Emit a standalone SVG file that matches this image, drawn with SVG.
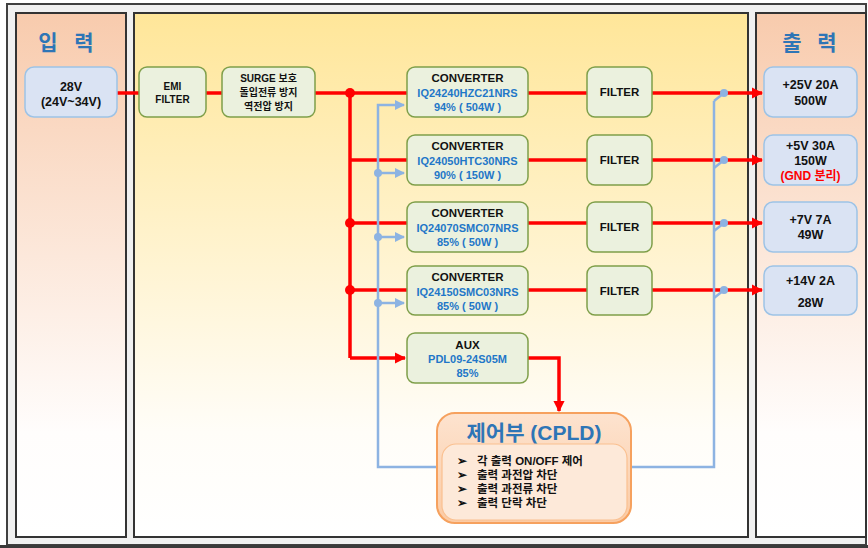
<svg xmlns="http://www.w3.org/2000/svg" width="868" height="548" viewBox="0 0 868 548">
<defs>
<linearGradient id="gSalmon" x1="0" y1="0" x2="0" y2="1">
<stop offset="0" stop-color="#f8cbad"/><stop offset="0.8" stop-color="#fffdfc"/><stop offset="1" stop-color="#ffffff"/>
</linearGradient>
<linearGradient id="gYellow" x1="0" y1="0" x2="0" y2="1">
<stop offset="0" stop-color="#ffe699"/><stop offset="0.8" stop-color="#fffdf8"/><stop offset="1" stop-color="#ffffff"/>
</linearGradient>
<linearGradient id="gOrange" x1="0" y1="0" x2="0" y2="1">
<stop offset="0" stop-color="#fde3cf"/><stop offset="1" stop-color="#fbcba5"/>
</linearGradient>
<marker id="arR" viewBox="0 0 10 10" refX="9" refY="5" markerWidth="3.2" markerHeight="3.2" orient="auto" markerUnits="strokeWidth">
<path d="M0,0 L10,5 L0,10 z" fill="#ff0000"/>
</marker>
<marker id="arB" viewBox="0 0 10 10" refX="9" refY="5" markerWidth="4" markerHeight="4" orient="auto" markerUnits="strokeWidth">
<path d="M0,0 L10,5 L0,10 z" fill="#8db3e2"/>
</marker>
<style>
text{font-family:"Liberation Sans","Noto Sans CJK KR",sans-serif;font-weight:bold;text-anchor:middle;}
.panel{stroke:#333;stroke-width:2;}
.green{fill:#ebf1de;stroke:#7f9f4a;stroke-width:1.5;}
.blue{fill:#dae3f3;stroke:#9dc3e6;stroke-width:1.5;}
.t{font-size:11.5px;fill:#111;}
.ts{font-size:10px;fill:#111;}
.pn{font-size:11px;fill:#1f77c8;}
.title{font-size:21px;fill:#2e75b6;font-family:"Noto Sans CJK KR",sans-serif;}
.red{stroke:#ff0000;stroke-width:3.5;fill:none;}
.bl{stroke:#8db3e2;stroke-width:2.5;fill:none;}
.bul{font-size:11.5px;fill:#111;text-anchor:start;}
.o{font-size:12.5px;fill:#111;}
</style>
</defs>
<rect x="0" y="0" width="868" height="548" fill="#ffffff"/>
<rect x="7" y="4" width="859" height="541" fill="#f0f0f0" stroke="#404040" stroke-width="2"/>
<rect x="0" y="545" width="868" height="3" fill="#3a3a3a"/>

<g id="panel-input">
<rect class="panel" x="16" y="13" width="110" height="524" fill="url(#gSalmon)"/>
<text class="title" x="48" y="50">입</text>
<text class="title" x="84" y="50">력</text>
</g>
<g id="panel-main">
<rect class="panel" x="134" y="13" width="614" height="524" fill="url(#gYellow)"/>
</g>
<g id="panel-output">
<rect class="panel" x="756" y="13" width="110" height="524" fill="url(#gSalmon)"/>
<text class="title" x="792" y="50">출</text>
<text class="title" x="827" y="50">력</text>
</g>

<g id="connectors">
<line class="red" x1="117" y1="93" x2="139" y2="93"/>
<line class="red" x1="206" y1="93" x2="222" y2="93"/>
<line class="red" x1="315" y1="93" x2="407" y2="93"/>
<line class="red" x1="350" y1="93" x2="350" y2="358"/>
<line class="red" x1="350" y1="358" x2="405" y2="358" marker-end="url(#arR)"/>
<line class="red" x1="350" y1="160" x2="407" y2="160"/>
<line class="red" x1="350" y1="223" x2="407" y2="223"/>
<line class="red" x1="350" y1="290" x2="407" y2="290"/>
<circle cx="350" cy="93" r="5" fill="#ff0000"/>
<circle cx="350" cy="223" r="5" fill="#ff0000"/>
<circle cx="350" cy="290" r="5" fill="#ff0000"/>
<line class="red" x1="528" y1="93" x2="587" y2="93"/>
<line class="red" x1="528" y1="160" x2="587" y2="160"/>
<line class="red" x1="528" y1="223" x2="587" y2="223"/>
<line class="red" x1="528" y1="290" x2="587" y2="290"/>
<line class="red" x1="652" y1="93" x2="762" y2="93" marker-end="url(#arR)"/>
<line class="red" x1="652" y1="160" x2="762" y2="160" marker-end="url(#arR)"/>
<line class="red" x1="652" y1="223" x2="762" y2="223" marker-end="url(#arR)"/>
<line class="red" x1="652" y1="290" x2="762" y2="290" marker-end="url(#arR)"/>
<polyline class="red" points="528,358 559,358 559,411" marker-end="url(#arR)"/>

<polyline class="bl" points="714,101 714,467 378,467 378,105 404,105" marker-end="url(#arB)"/>
<line class="bl" x1="378" y1="173" x2="404" y2="173" marker-end="url(#arB)"/>
<line class="bl" x1="378" y1="237" x2="404" y2="237" marker-end="url(#arB)"/>
<line class="bl" x1="378" y1="303" x2="404" y2="303" marker-end="url(#arB)"/>
<circle cx="378" cy="173" r="4" fill="#8db3e2"/>
<circle cx="378" cy="237" r="4" fill="#8db3e2"/>
<circle cx="378" cy="303" r="4" fill="#8db3e2"/>
<line class="bl" x1="714" y1="101" x2="724" y2="93"/>
<line class="bl" x1="714" y1="168" x2="724" y2="160"/>
<line class="bl" x1="714" y1="231" x2="724" y2="223"/>
<line class="bl" x1="714" y1="298" x2="724" y2="290"/>
<circle cx="724" cy="93" r="4" fill="#8db3e2"/>
<circle cx="724" cy="160" r="4" fill="#8db3e2"/>
<circle cx="724" cy="223" r="4" fill="#8db3e2"/>
<circle cx="724" cy="290" r="4" fill="#8db3e2"/>
</g>

<g id="input-28v">
<rect class="blue" x="25" y="67" width="92" height="50" rx="9"/>
<text class="o" x="71" y="91">28V</text>
<text class="o" x="71" y="106">(24V~34V)</text>
</g>
<g id="emi-filter">
<rect class="green" x="139" y="67" width="67" height="50" rx="8"/>
<text class="ts" x="172.5" y="90">EMI</text>
<text class="ts" x="172.5" y="103">FILTER</text>
</g>
<g id="surge">
<rect class="green" x="222" y="67" width="93" height="50" rx="8"/>
<text class="ts" x="268.5" y="82">SURGE 보호</text>
<text class="ts" x="268.5" y="96">돌입전류 방지</text>
<text class="ts" x="268.5" y="110">역전압 방지</text>
</g>

<g id="conv1">
<rect class="green" x="407" y="67" width="121" height="50" rx="8"/>
<text class="t" x="467.5" y="82">CONVERTER</text>
<text class="pn" x="467.5" y="97">IQ24240HZC21NRS</text>
<text class="pn" x="467.5" y="111">94% ( 504W )</text>
</g>
<g id="conv2">
<rect class="green" x="407" y="135" width="121" height="50" rx="8"/>
<text class="t" x="467.5" y="150">CONVERTER</text>
<text class="pn" x="467.5" y="165">IQ24050HTC30NRS</text>
<text class="pn" x="467.5" y="179">90% ( 150W )</text>
</g>
<g id="conv3">
<rect class="green" x="407" y="202" width="121" height="50" rx="8"/>
<text class="t" x="467.5" y="217">CONVERTER</text>
<text class="pn" x="467.5" y="232">IQ24070SMC07NRS</text>
<text class="pn" x="467.5" y="246">85% ( 50W )</text>
</g>
<g id="conv4">
<rect class="green" x="407" y="266" width="121" height="49" rx="8"/>
<text class="t" x="467.5" y="281">CONVERTER</text>
<text class="pn" x="467.5" y="296">IQ24150SMC03NRS</text>
<text class="pn" x="467.5" y="310">85% ( 50W )</text>
</g>
<g id="aux">
<rect class="green" x="407" y="333" width="121" height="50" rx="8"/>
<text class="t" x="467.5" y="349">AUX</text>
<text class="pn" x="467.5" y="363">PDL09-24S05M</text>
<text class="pn" x="467.5" y="377">85%</text>
</g>

<g id="filter1"><rect class="green" x="587" y="67" width="65" height="50" rx="8"/><text class="t" x="619.5" y="96">FILTER</text></g>
<g id="filter2"><rect class="green" x="587" y="135" width="65" height="50" rx="8"/><text class="t" x="619.5" y="164">FILTER</text></g>
<g id="filter3"><rect class="green" x="587" y="202" width="65" height="50" rx="8"/><text class="t" x="619.5" y="231">FILTER</text></g>
<g id="filter4"><rect class="green" x="587" y="266" width="65" height="49" rx="8"/><text class="t" x="619.5" y="295">FILTER</text></g>

<g id="out1">
<rect class="blue" x="764" y="67" width="93" height="50" rx="9"/>
<text class="o" x="810.5" y="89">+25V 20A</text>
<text class="o" x="810.5" y="105">500W</text>
</g>
<g id="out2">
<rect class="blue" x="764" y="135" width="93" height="50" rx="9"/>
<text class="o" x="810.5" y="150">+5V 30A</text>
<text class="o" x="810.5" y="165">150W</text>
<text x="810.5" y="180" style="font-size:12px;fill:#ff0000">(GND 분리)</text>
</g>
<g id="out3">
<rect class="blue" x="764" y="202" width="93" height="50" rx="9"/>
<text class="o" x="810.5" y="224">+7V 7A</text>
<text class="o" x="810.5" y="239">49W</text>
</g>
<g id="out4">
<rect class="blue" x="764" y="266" width="93" height="49" rx="9"/>
<text class="o" x="810.5" y="285">+14V 2A</text>
<text class="o" x="810.5" y="307">28W</text>
</g>

<g id="cpld">
<rect x="437" y="413" width="194" height="110" rx="18" fill="url(#gOrange)" stroke="#f6a15e" stroke-width="2"/>
<text x="534" y="440" font-size="21" fill="#2e75b6">제어부 (CPLD)</text>
<rect x="442" y="444" width="185" height="76" rx="14" fill="#fde9d9" stroke="#fac090" stroke-width="1.2"/>
<text class="bul" x="457" y="465">➢</text><text class="bul" x="477" y="465">각 출력 ON/OFF 제어</text>
<text class="bul" x="457" y="479">➢</text><text class="bul" x="477" y="479">출력 과전압 차단</text>
<text class="bul" x="457" y="493">➢</text><text class="bul" x="477" y="493">출력 과전류 차단</text>
<text class="bul" x="457" y="507">➢</text><text class="bul" x="477" y="507">출력 단락 차단</text>
</g>
</svg>
